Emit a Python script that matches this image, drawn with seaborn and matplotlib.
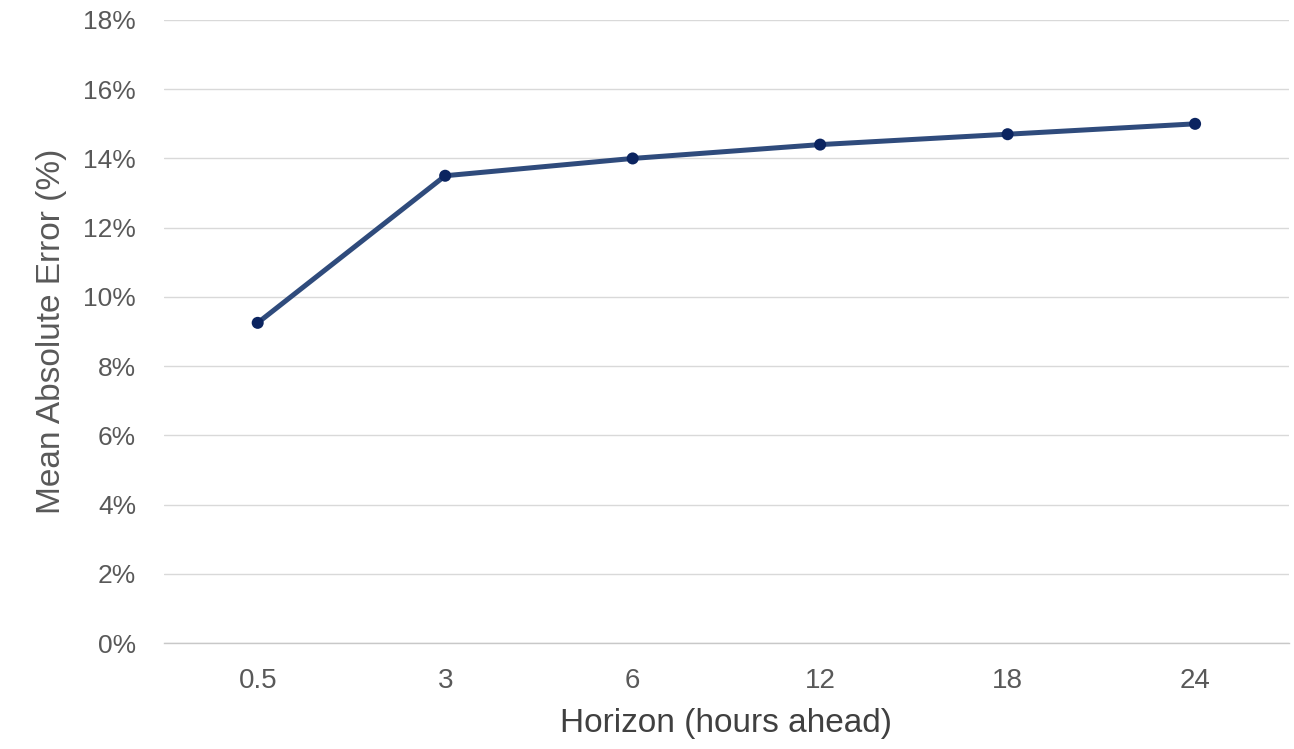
import pandas as pd
import matplotlib.pyplot as plt
import seaborn as sns
from matplotlib.ticker import FuncFormatter, MultipleLocator

horizons = ["0.5", "3", "6", "12", "18", "24"]
mae = [9.25, 13.5, 14.0, 14.4, 14.7, 15.0]

df = pd.DataFrame({"horizon": horizons, "mae": mae})

sns.set_style("white")
plt.rcParams["font.family"] = ["Liberation Sans", "DejaVu Sans"]

fig = plt.figure(figsize=(12.94, 7.49), dpi=100)
ax = fig.add_axes([0.1267, 0.1415, 0.8693, 0.8318])

sns.lineplot(data=df, x="horizon", y="mae", ax=ax, color="#2F4B7C",
             linewidth=3.6, sort=False, zorder=3)
sns.scatterplot(data=df, x="horizon", y="mae", ax=ax, color="#0B2460",
                s=75, edgecolor="none", zorder=4)

ax.set_xlim(-0.5, len(horizons) - 0.5)
ax.set_ylim(0, 18)
ax.yaxis.set_major_locator(MultipleLocator(2))
ax.yaxis.set_major_formatter(FuncFormatter(lambda v, p: f"{v:.0f}%"))
ax.grid(axis="y", color="#D9D9D9", linewidth=1.0)
ax.set_axisbelow(True)

for s in ["top", "right", "left"]:
    ax.spines[s].set_visible(False)
ax.spines["bottom"].set_color("#C8C8C8")
ax.spines["bottom"].set_linewidth(1.0)

ax.tick_params(axis="both", length=0)
ax.tick_params(axis="y", labelsize=19, labelcolor="#595959", pad=20)
ax.tick_params(axis="x", labelsize=20, labelcolor="#595959", pad=18)

ax.set_xlabel("Horizon (hours ahead)", fontsize=24, color="#404040",
              labelpad=10)
ax.set_ylabel("Mean Absolute Error (%)", fontsize=24, color="#595959",
              labelpad=12)

fig.savefig("out.png", dpi=100)
plt.close()
